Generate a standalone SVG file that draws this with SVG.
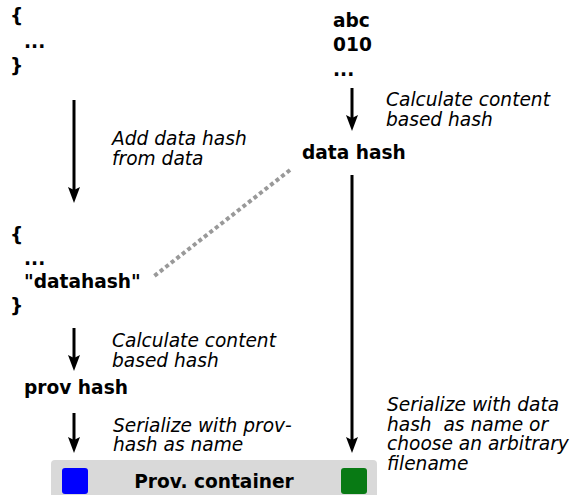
<svg xmlns="http://www.w3.org/2000/svg" width="575" height="495" viewBox="0 0 575 495">
  <style>
    .code { font-family: "DejaVu Sans", Verdana, sans-serif; font-weight: bold; font-size: 18.6px; fill: #000; white-space: pre; }
    .note { font-family: "DejaVu Sans", Verdana, sans-serif; font-style: italic; font-size: 18.6px; fill: #000; white-space: pre; }
    .arrow { stroke: #000; stroke-width: 3; fill: none; marker-end: url(#head); }
    .link { stroke: #999; stroke-width: 4; stroke-dasharray: 4 3; fill: none; }
  </style>
  <defs>
    <marker id="head" viewBox="0 0 16 12" markerWidth="16" markerHeight="12" refX="6" refY="6" orient="auto" markerUnits="userSpaceOnUse">
      <path d="M0,0 L16,6 L0,12 L3,6 z" fill="#000"/>
    </marker>
  </defs>

  <rect width="575" height="495" fill="#fff"/>

  <!-- connectors -->
  <g id="connectors">
    <line class="arrow" x1="74" y1="100" x2="74" y2="193"/>
    <line class="arrow" x1="352" y1="88" x2="352" y2="121"/>
    <line class="arrow" x1="352" y1="175" x2="352" y2="443"/>
    <line class="arrow" x1="74" y1="328" x2="74" y2="361"/>
    <line class="arrow" x1="74" y1="413" x2="74" y2="443"/>
    <line class="link" x1="290" y1="170" x2="153" y2="277"/>
  </g>

  <!-- edge labels -->
  <g id="labels">
    <text class="note" x="112" y="145">Add data hash</text>
    <text class="note" x="112" y="165">from data</text>
    <text class="note" x="386" y="106">Calculate content</text>
    <text class="note" x="386" y="126">based hash</text>
    <text class="note" x="112" y="347">Calculate content</text>
    <text class="note" x="112" y="367">based hash</text>
    <text class="note" x="113" y="432">Serialize with prov-</text>
    <text class="note" x="113" y="451">hash as name</text>
    <text class="note" x="387" y="411">Serialize with data</text>
    <text class="note" x="387" y="430.5">hash  as name or</text>
    <text class="note" x="387" y="450">choose an arbitrary</text>
    <text class="note" x="387" y="469.5">filename</text>
  </g>

  <!-- original provenance record -->
  <g id="prov-record">
    <text class="code" x="10" y="22">{</text>
    <text class="code" x="24" y="48">...</text>
    <text class="code" x="10" y="72">}</text>
  </g>

  <!-- raw data -->
  <g id="data">
    <text class="code" x="333" y="27">abc</text>
    <text class="code" x="333" y="51">010</text>
    <text class="code" x="333" y="76">...</text>
  </g>

  <g id="data-hash">
    <text class="code" x="302" y="159">data hash</text>
  </g>

  <!-- provenance record with data hash -->
  <g id="prov-record-hashed">
    <text class="code" x="10" y="241">{</text>
    <text class="code" x="24" y="265">...</text>
    <text class="code" x="24" y="288">"datahash"</text>
    <text class="code" x="10" y="312">}</text>
  </g>

  <g id="prov-hash">
    <text class="code" x="24" y="394">prov hash</text>
  </g>

  <!-- container holding both files -->
  <g id="prov-container">
    <rect x="51" y="460" width="326" height="42" rx="4" fill="#d9d9d9"/>
    <rect x="62" y="468" width="26" height="26" rx="3" fill="#0000ff"/>
    <rect x="341" y="468" width="26" height="26" rx="3" fill="#087a14"/>
    <text class="code" x="214" y="488" text-anchor="middle">Prov. container</text>
  </g>
</svg>
